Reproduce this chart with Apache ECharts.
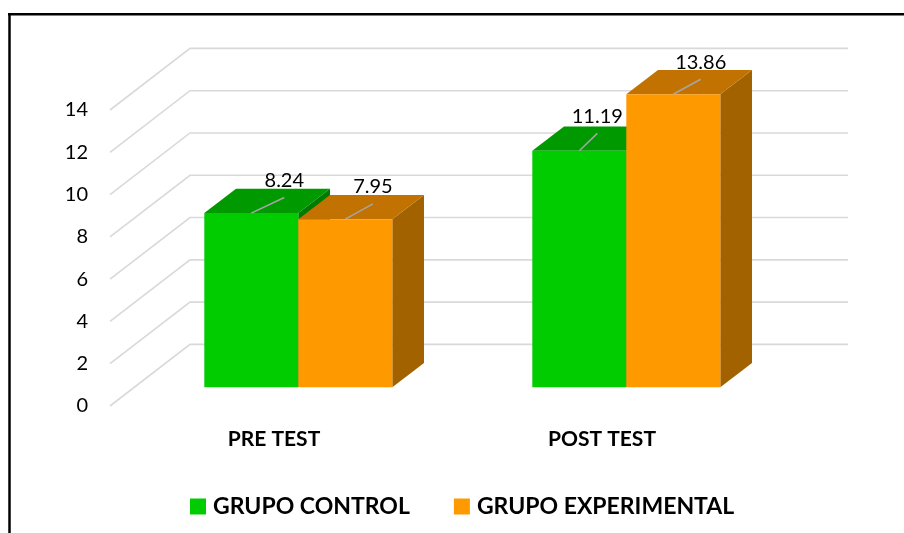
<!DOCTYPE html>
<html>
<head>
<meta charset="utf-8">
<style>
  html, body { margin: 0; padding: 0; background: #fff; }
  #chart { width: 904px; height: 533px; }
</style>
<script src="https://cdn.jsdelivr.net/npm/echarts@6/dist/echarts.min.js"></script>
</head>
<body>
<div id="chart"></div>
<script>
const categories = ['PRE TEST', 'POST TEST'];
const grupoControl = [8.24, 11.19];
const grupoExperimental = [7.95, 13.86];
const yTicks = [0, 2, 4, 6, 8, 10, 12, 14];

// 假 3D 的几何参数 (px)
const WALL_DX = 80, WALL_DY = 61.6;      // 前沿到背墙的偏移
const BAR_DX = 24.3, BAR_DY = 18.7;      // 柱子正面相对前沿的偏移
const DEPTH_DX = 31.7, DEPTH_DY = 24.3;  // 柱子本身的厚度
const BAR_W = 94;

// 每个数据标签引线的终点、文字相对柱顶中点的偏移 [系列][类目]
const leaderOffsets = [
  [[33, -15.6], [18, -17.3]],
  [[27.6, -15.3], [27.4, -15]]
];

const chart = echarts.init(document.getElementById('chart'));

function renderWall(params, api) {
  const cs = params.coordSys;
  const y = api.coord([0, api.value(1)])[1];
  const x0 = cs.x;
  const xb = cs.x + WALL_DX;
  return {
    type: 'polyline',
    silent: true,
    shape: { points: [[x0, y], [xb, y - WALL_DY], [cs.x + cs.width + WALL_DX + 2, y - WALL_DY]] },
    style: { stroke: '#d9d9d9', lineWidth: 1.6, fill: null }
  };
}

// 一根柱子：正面 + 顶面 + 侧面 + 引线 + 文字
function makeBar(side, faceColor, topColor, sideColor, seriesIdx) {
  return function (params, api) {
    const idx = api.value(0);
    const val = api.value(1);
    const top = api.coord([idx, val]);
    const base = api.coord([idx, 0]);
    const l = top[0] + BAR_DX + (side < 0 ? -BAR_W : 0);
    const r = l + BAR_W;
    const t = top[1] - BAR_DY;
    const b = base[1] - BAR_DY;
    const mid = (l + r) / 2;
    const off = leaderOffsets[seriesIdx][idx];
    return {
      type: 'group',
      silent: true,
      children: [
        {
          type: 'polygon',
          shape: { points: [[r, t], [r + DEPTH_DX, t - DEPTH_DY], [r + DEPTH_DX, b - DEPTH_DY], [r, b]] },
          style: { fill: sideColor }
        },
        {
          type: 'polygon',
          shape: { points: [[l, t], [l + DEPTH_DX, t - DEPTH_DY], [r + DEPTH_DX, t - DEPTH_DY], [r, t]] },
          style: { fill: topColor }
        },
        {
          type: 'rect',
          shape: { x: l, y: t, width: BAR_W, height: b - t },
          style: { fill: faceColor }
        },
        {
          type: 'line',
          shape: { x1: mid, y1: t, x2: mid + off[0], y2: t + off[1] },
          style: { stroke: '#a6a6a6', lineWidth: 1.5 }
        },
        {
          type: 'text',
          style: {
            x: mid + off[0],
            y: t + off[1] - 17,
            text: val.toFixed(2),
            align: 'center',
            verticalAlign: 'middle',
            fill: '#000',
            fontFamily: 'Lato',
            fontSize: 20
          }
        }
      ]
    };
  };
}

const option = {
  backgroundColor: '#fff',
  animation: false,
  graphic: [
    { type: 'line', shape: { x1: 9.5, y1: 14, x2: 9.5, y2: 533 }, style: { stroke: '#000', lineWidth: 2.5 } },
    { type: 'line', shape: { x1: 8, y1: 14.3, x2: 904, y2: 14.3 }, style: { stroke: '#000', lineWidth: 2.5 } }
  ],
  grid: { left: 110, top: 110, width: 656, height: 296, containLabel: false },
  legend: {
    data: ['GRUPO CONTROL', 'GRUPO EXPERIMENTAL'],
    left: 185,
    top: 490,
    icon: 'rect',
    itemWidth: 16,
    itemHeight: 16,
    itemGap: 44,
    selectedMode: false,
    textStyle: { color: '#000', fontFamily: 'Lato', fontWeight: 'bold', fontSize: 23, padding: [0, 0, 0, 2] }
  },
  xAxis: {
    type: 'category',
    data: categories,
    axisLine: { show: false },
    axisTick: { show: false },
    splitLine: { show: false },
    axisLabel: { color: '#000', fontFamily: 'Lato', fontWeight: 'bold', fontSize: 21, margin: 23 }
  },
  yAxis: {
    type: 'value',
    min: 0,
    max: 14,
    interval: 2,
    axisLine: { show: false },
    axisTick: { show: false },
    splitLine: { show: false },
    axisLabel: { color: '#000', fontFamily: 'Lato', fontSize: 20, margin: 22 }
  },
  series: [
    {
      type: 'custom',
      name: 'wall',
      z: 1,
      renderItem: renderWall,
      encode: { x: 0, y: 1 },
      data: yTicks.map(t => [0, t])
    },
    {
      type: 'custom',
      name: 'GRUPO CONTROL',
      z: 2,
      itemStyle: { color: '#00cc00' },
      renderItem: makeBar(-1, '#00cc00', '#009900', '#007a00', 0),
      encode: { x: 0, y: 1 },
      data: grupoControl.map((v, i) => [i, v])
    },
    {
      type: 'custom',
      name: 'GRUPO EXPERIMENTAL',
      z: 3,
      itemStyle: { color: '#ff9900' },
      renderItem: makeBar(1, '#ff9900', '#c27200', '#a36200', 1),
      encode: { x: 0, y: 1 },
      data: grupoExperimental.map((v, i) => [i, v])
    }
  ]
};

chart.setOption(option);
</script>
</body>
</html>
